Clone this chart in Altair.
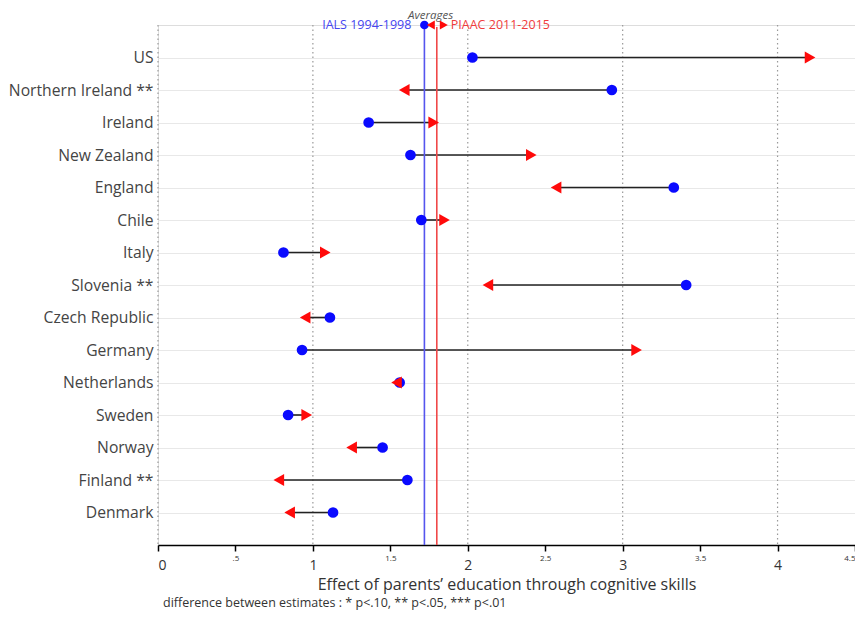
import altair as alt
import pandas as pd

countries = ["US", "Northern Ireland **", "Ireland", "New Zealand", "England", "Chile",
             "Italy", "Slovenia **", "Czech Republic", "Germany", "Netherlands", "Sweden",
             "Norway", "Finland **", "Denmark"]
ials = [2.03, 2.93, 1.36, 1.63, 3.33, 1.70, 0.81, 3.41, 1.11, 0.93, 1.56, 0.84, 1.45, 1.61, 1.13]
piaac = [4.21, 1.59, 1.78, 2.41, 2.57, 1.85, 1.08, 2.13, 0.95, 3.09, 1.54, 0.96, 1.25, 0.78, 0.85]
avg_ials = 1.72
avg_piaac = 1.80
x_ticks = [0, 0.5, 1, 1.5, 2, 2.5, 3, 3.5, 4, 4.5]
grid_values = [0, 1, 2, 3, 4]

FONT = "Open Sans"
BLUE = "#0a0aff"
RED = "#ff0a0a"

df = pd.DataFrame({"country": countries, "ials": ials, "piaac": piaac})
gdf = pd.DataFrame({"g": grid_values})

xscale = alt.Scale(domain=[0, 4.5], nice=False, zero=False)
yscale = alt.Scale(type="point", padding=1)

x_axis = alt.Axis(
    values=x_ticks,
    labelExpr="datum.value == 0.5 ? '.5' : '' + datum.value",
    labelFontSize={"condition": {"test": "datum.value % 1 !== 0", "value": 8}, "value": 14},
    labelPadding={"condition": {"test": "datum.value % 1 !== 0", "value": 3}, "value": 7},
    labelColor="#333",
    labelFont=FONT,
    tickColor="#000",
    tickSize=6,
    tickWidth=1.5,
    domainColor="#000",
    domainWidth=1.5,
    grid=False,
    title="Effect of parents\u2019 education through cognitive skills",
    titleFont=FONT,
    titleFontSize=16,
    titleFontWeight="normal",
    titleColor="#333",
    titleY=44,
    titleBaseline="alphabetic",
)

y_axis = alt.Axis(
    title=None,
    labelFont=FONT,
    labelFontSize=15.7,
    labelColor="#444",
    labelPadding=5,
    ticks=False,
    domain=False,
    grid=True,
    gridColor="#e8e8e8",
    gridWidth=1,
)

grid = alt.Chart(gdf).mark_rule(color="#999", strokeDash=[1.5, 3], strokeWidth=1.2).encode(
    x=alt.X("g:Q", scale=xscale, axis=x_axis),
    y=alt.value(0),
    y2=alt.value(520),
)

base = alt.Chart(df)

seg = base.mark_rule(color="#222", strokeWidth=1.6).encode(
    x=alt.X("ials:Q", scale=xscale, axis=x_axis),
    x2="piaac:Q",
    y=alt.Y("country:N", sort=countries, scale=yscale, axis=y_axis),
)

dots = base.mark_circle(color=BLUE, opacity=1, size=115).encode(
    x=alt.X("ials:Q", scale=xscale),
    y=alt.Y("country:N", sort=countries, scale=yscale),
)

tris = base.transform_calculate(
    shp="datum.piaac >= datum.ials ? 'triangle-right' : 'triangle-left'"
).mark_point(filled=True, color=RED, opacity=1, size=150).encode(
    x=alt.X("piaac:Q", scale=xscale),
    y=alt.Y("country:N", sort=countries, scale=yscale),
    shape=alt.Shape("shp:N", scale=None),
)

avg_b = alt.Chart().mark_rule(color="#5555ee", strokeWidth=1.6).encode(
    x=alt.datum(avg_ials), y=alt.value(0), y2=alt.value(520)
)
avg_r = alt.Chart().mark_rule(color="#f04848", strokeWidth=1.6).encode(
    x=alt.datum(avg_piaac), y=alt.value(2), y2=alt.value(520)
)

leg_title = alt.Chart().mark_text(
    text="Averages", font=FONT, fontSize=11.5, fontStyle="italic", color="#555", baseline="middle"
).encode(x=alt.datum((avg_ials + avg_piaac) / 2), y=alt.value(-9))

leg_dot = alt.Chart().mark_circle(color=BLUE, opacity=1, size=75).encode(
    x=alt.datum(avg_ials), y=alt.value(0)
)
leg_tl = alt.Chart().mark_point(filled=True, color=RED, opacity=1, size=85, shape="triangle-left", xOffset=-6).encode(
    x=alt.datum(avg_piaac), y=alt.value(0)
)
leg_tr = alt.Chart().mark_point(filled=True, color=RED, opacity=1, size=85, shape="triangle-right", xOffset=7).encode(
    x=alt.datum(avg_piaac), y=alt.value(0)
)
leg_ials = alt.Chart().mark_text(
    text="IALS 1994-1998", font=FONT, fontSize=12.5, color="#4646f0", align="right", baseline="middle", dx=-13
).encode(x=alt.datum(avg_ials), y=alt.value(0))
leg_piaac = alt.Chart().mark_text(
    text="PIAAC 2011-2015", font=FONT, fontSize=12.5, color="#f03c3c", align="left", baseline="middle", dx=14
).encode(x=alt.datum(avg_piaac), y=alt.value(0))

note = alt.Chart().mark_text(
    text="difference between estimates : * p<.10, ** p<.05, *** p<.01",
    font=FONT, fontSize=12.5, color="#333", align="left", baseline="middle"
).encode(x=alt.value(5), y=alt.value(578))

chart = alt.layer(
    grid, seg, avg_b, avg_r, dots, tris,
    leg_title, leg_dot, leg_tl, leg_tr, leg_ials, leg_piaac, note
).properties(
    width=697, height=520,
    autosize=alt.AutoSizeParams(type="none"),
    padding={"left": 150, "top": 17, "right": 0, "bottom": 66},
).configure_view(stroke=None).configure(background="white")

chart.save("out.html", embed_options={"renderer": "svg", "actions": False})
